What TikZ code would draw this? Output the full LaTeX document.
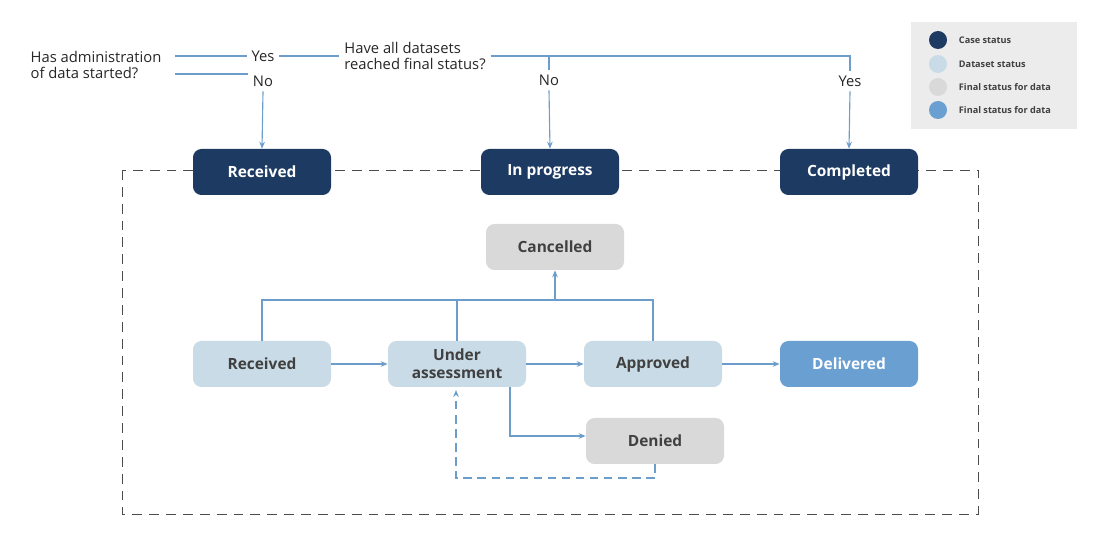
\documentclass[tikz,border=0pt]{standalone}
\usepackage{fontspec}
\setmainfont{Open Sans}
\usetikzlibrary{positioning,arrows.meta}
\definecolor{caseblue}{HTML}{1D3A63}
\definecolor{setblue}{HTML}{C9DBE7}
\definecolor{finalgray}{HTML}{D9D9D9}
\definecolor{finalblue}{HTML}{6A9FD2}
\definecolor{linkblue}{HTML}{6C9DCB}
\definecolor{legendbg}{HTML}{ECECEC}
\tikzset{
  box/.style={rounded corners=6pt, minimum width=138*0.025cm, minimum height=46*0.025cm,
    font=\fontsize{11}{13}\selectfont\bfseries, align=center, inner sep=1pt},
  casebox/.style={box, fill=caseblue, text=white},
  setbox/.style={box, fill=setblue, text=black!75},
  grayboxx/.style={box, fill=finalgray, text=black!75},
  doneboxx/.style={box, fill=finalblue, text=white},
  link/.style={linkblue, line width=0.8pt},
  arr/.style={link, -{Stealth[length=5pt,width=4pt]}},
  question/.style={font=\fontsize{10.5}{12}\selectfont, align=left, text=black!85},
  answer/.style={font=\fontsize{10.5}{12}\selectfont, text=black!85},
  legtext/.style={font=\fontsize{6.5}{8}\selectfont\bfseries, text=black!75, anchor=west}
}
\begin{document}
\begin{tikzpicture}[x=0.025cm, y=-0.025cm]
    \useasboundingbox (0,0) rectangle (1100,550);
    % Legend
    \fill[legendbg] (911,22) rectangle (1077,129);
    \foreach \y/\c/\t in {40/caseblue/Case status, 64/setblue/Dataset status, 87/finalgray/Final status for data, 110/finalblue/Final status for data}{
      \fill[\c] (938,\y) circle (9);
      \node[legtext] at (954,\y) {\t};
    }

    % Frame
    \draw[dashed, dash pattern=on 7pt off 5pt, black!70, line width=0.7pt] (122,170) rectangle (978,514);

    % Case status
    \node[casebox] (caseRec) at (262,172) {Received};
    \node[casebox] (caseProg) at (550,172) {In progress};
    \node[casebox] (caseDone) at (849,172) {Completed};

    % Questions
    \node[question] (q1) at (96,65) {Has administration\\of data started?};
    \node[answer] (q1yes) at (263,56) {Yes};
    \node[answer] (q1no) at (263,81) {No};
    \node[question] (q2) at (415,56) {Have all datasets\\reached final status?};
    \node[answer] (q2no) at (549,80) {No};
    \node[answer] (q2yes) at (850,81) {Yes};
    \coordinate (q1a) at (175,56);
    \coordinate (q1b) at (175,74);
    \coordinate (q2turn) at (850,56);
    \coordinate (q2drop) at (549,56);

    \draw[link] (q1a) -- (q1yes.west |- q1a);
    \draw[link] (q1b) -- (q1no.west |- q1b);
    \draw[link] (q1yes.east) -- (q2.west |- q1yes);
    \draw[link] (q2.east |- q2turn) -- (q2turn) -- (q2yes.north);
    \draw[link] (q2drop) -- (q2no.north);
    \draw[arr] (q1no.south) -- (caseRec.north);
    \draw[arr] (q2no.south) -- (caseProg.north);
    \draw[arr] (q2yes.south) -- (caseDone.north);

    % Dataset status
    \node[grayboxx] (cancel) at (555,247) {Cancelled};
    \node[setbox] (setRec) at (262,364) {Received};
    \node[setbox] (assess) at (457,364) {Under\\assessment};
    \node[setbox] (approve) at (653,364) {Approved};
    \node[doneboxx] (deliver) at (849,364) {Delivered};
    \node[grayboxx] (deny) at (655,441) {Denied};

    \draw[arr] (setRec) -- (assess);
    \draw[arr] (assess) -- (approve);
    \draw[arr] (approve) -- (deliver);

    \coordinate (bar) at (555,300);
    \draw[link] (setRec.north) -- (setRec.north |- bar) -- (approve.north |- bar) -- (approve.north);
    \draw[link] (assess.north) -- (assess.north |- bar);
    \draw[arr] (bar) -- (cancel.south);

    \coordinate (dnDrop) at (510,436);
    \draw[arr] (assess.south -| dnDrop) -- (dnDrop) -- (deny.west |- dnDrop);
    \coordinate (back) at (456,478);
    \draw[arr, dashed, dash pattern=on 6pt off 4pt] (deny.south) -- (deny.south |- back) -- (back) -- (456,390);
\end{tikzpicture}
\end{document}
